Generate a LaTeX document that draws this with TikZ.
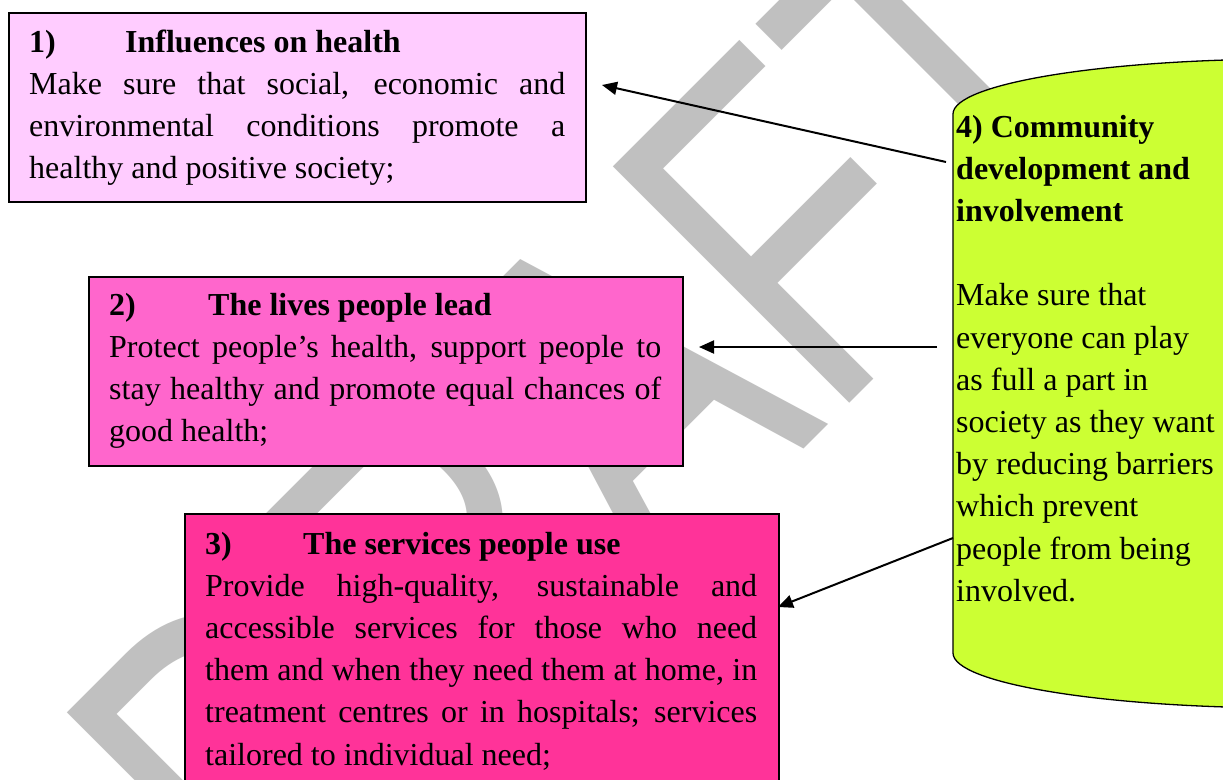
\documentclass[tikz,border=0pt]{standalone}
\usepackage{fontspec}
\setmainfont{Liberation Serif}
\newfontfamily\wmfont[Kerning=Off]{Liberation Sans}
\usetikzlibrary{arrows.meta}

\definecolor{paleorchid}{HTML}{FFCCFF}
\definecolor{midpink}{HTML}{FF66CC}
\definecolor{deeppink}{HTML}{FF3399}
\definecolor{limegreen}{HTML}{CCFF33}
\definecolor{wmgray}{HTML}{C0C0C0}

% one justified line of a text block
\newcommand{\fullline}[1]{\makebox[\linewidth][s]{#1}}

\begin{document}
\begin{tikzpicture}[x=1pt, y=1pt,
  panel/.style={draw=black, line width=1.8pt, inner sep=0pt, anchor=north west},
  body/.style={anchor=base west, inner sep=0pt, font=\fontsize{32}{42.2}\selectfont},
  link/.style={line width=2pt, -{Triangle[length=15pt, width=13pt]}},
]
\useasboundingbox (0,0) rectangle (1223,-779);
\clip (0,0) rectangle (1223,-779);
\fill[white] (0,0) rectangle (1223,-779);

% DRAFT watermark behind everything
\begin{scope}[shift={(282,-971)}, rotate=45, xscale=3.66, yscale=4.86]
  \node[anchor=base west, inner sep=0pt, transform shape, text=wmgray,
        font=\wmfont\fontsize{100}{100}\selectfont] (wm) at (0,0) {DRAFT};
\end{scope}

% the three outcome boxes
\node[panel, fill=paleorchid, minimum width=577pt, minimum height=189pt] (b1) at (8,-12) {};
\node[panel, fill=midpink, minimum width=594pt, minimum height=189pt] (b2) at (88,-276) {};
\node[panel, fill=deeppink, minimum width=594pt, minimum height=300pt] (b3) at (184,-513) {};

% community development can
\path[draw=black, line width=1.3pt, fill=limegreen]
  (1300,-59) -- (1290,-59)
  arc[start angle=90, end angle=180, x radius=337, y radius=55]
  -- (953,-653)
  arc[start angle=180, end angle=270, x radius=337, y radius=55]
  -- (1300,-708) -- cycle;

% box texts
\node[body] (t1) at (29,-52) {\parbox[t]{536pt}{%
  \textbf{\makebox[96pt][l]{1)}Influences on health}\\
  \fullline{Make sure that social, economic and}\\
  \fullline{environmental conditions promote a}\\
  healthy and positive society;}};

\node[body] (t2) at (109,-315) {\parbox[t]{552pt}{%
  \textbf{\makebox[99pt][l]{2)}The lives people lead}\\
  \fullline{Protect people’s health, support people to}\\
  \fullline{stay healthy and promote equal chances of}\\
  good health;}};

\node[body] (t3) at (205,-554) {\parbox[t]{552pt}{%
  \textbf{\makebox[98pt][l]{3)}The services people use}\\
  \fullline{Provide high-quality, sustainable and}\\
  \fullline{accessible services for those who need}\\
  \fullline{them and when they need them at home, in}\\
  \fullline{treatment centres or in hospitals; services}\\
  tailored to individual need;}};

\node[body] (t4) at (956,-137) {\parbox[t]{265pt}{%
  \textbf{4) Community}\\
  \textbf{development and}\\
  \textbf{involvement}\\[42.2pt]
  Make sure that\\
  everyone can play\\
  as full a part in\\
  society as they want\\
  by reducing barriers\\
  which prevent\\
  people from being\\
  involved.}};

% connectors from the can to each box
\coordinate (g1) at (946,-162);
\coordinate (e1) at (602,-85);
\coordinate (g2) at (937,-347);
\coordinate (e2) at (699,-347);
\coordinate (g3) at (953,-538);
\coordinate (e3) at (778,-607);
\draw[link] (g1) -- (e1);
\draw[link] (g2) -- (e2);
\draw[link] (g3) -- (e3);
\end{tikzpicture}
\end{document}
